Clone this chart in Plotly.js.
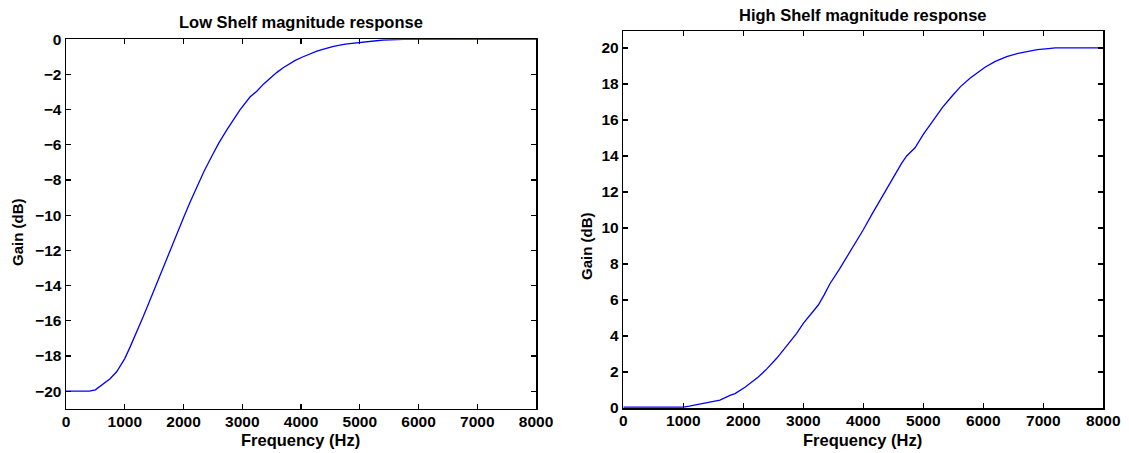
<!DOCTYPE html>
<html>
<head>
<meta charset="utf-8">
<script src="https://cdn.plot.ly/plotly-3.0.1.min.js"></script>
<style>html,body{margin:0;padding:0;background:#fff;}#plot{width:1129px;height:453px;}</style>
</head>
<body>
<div id="plot"></div>
<script>
// Low shelf magnitude response
const lowFreq = [0, 200, 400, 500, 636, 750, 862, 1000, 1090, 1200, 1317, 1420, 1516, 1630, 1750, 1828, 2000, 2113, 2226, 2350, 2481, 2600, 2737, 2850, 2964, 3135, 3248, 3360, 3476, 3590, 3703, 3800, 3902, 4016, 4130, 4270, 4400, 4554, 4753, 4895, 5123, 5400, 5750, 6000, 7000, 8000];
const lowGain = [-20, -20, -20, -19.93, -19.6, -19.3, -18.9, -18.15, -17.5, -16.7, -15.75, -14.9, -14.1, -13.2, -12.2, -11.55, -10.15, -9.25, -8.4, -7.5, -6.65, -5.9, -5.15, -4.55, -4.0, -3.27, -2.95, -2.55, -2.2, -1.88, -1.6, -1.4, -1.2, -1.02, -0.86, -0.67, -0.54, -0.4, -0.27, -0.22, -0.13, -0.04, 0, 0, 0, 0];
// High shelf magnitude response
const highFreq = [0, 500, 1000, 1100, 1222, 1400, 1611, 1778, 1862, 2028, 2250, 2400, 2556, 2700, 2889, 3000, 3139, 3250, 3350, 3444, 3600, 3722, 3850, 4000, 4150, 4306, 4420, 4528, 4640, 4723, 4862, 5000, 5167, 5320, 5473, 5620, 5778, 6028, 6200, 6390, 6580, 6778, 6900, 7083, 7200, 8000];
const highGain = [0.05, 0.05, 0.05, 0.1, 0.18, 0.3, 0.44, 0.7, 0.8, 1.15, 1.72, 2.2, 2.76, 3.35, 4.15, 4.7, 5.28, 5.72, 6.3, 6.9, 7.7, 8.35, 9.1, 9.9, 10.8, 11.7, 12.4, 13.0, 13.6, 14.0, 14.45, 15.2, 16.0, 16.7, 17.3, 17.85, 18.32, 18.93, 19.25, 19.52, 19.7, 19.83, 19.9, 19.96, 20, 20];

const xTicks = [0, 1000, 2000, 3000, 4000, 5000, 6000, 7000, 8000];
const lowTicks = [0, -2, -4, -6, -8, -10, -12, -14, -16, -18, -20];
const highTicks = [0, 2, 4, 6, 8, 10, 12, 14, 16, 18, 20];

const titles = ["Low Shelf magnitude response", "High Shelf magnitude response"];
const xLabel = "Frequency (Hz)";
const yLabel = "Gain (dB)";

const W = 1129, H = 453;
const px = v => v / W;
const py = v => 1 - v / H;

const fontFam = "Liberation Sans, Arial, sans-serif";
const tickFont = {family: fontFam, size: 15.5, color: "#000", weight: 700};
const boldLabel = v => "<b>" + String(v).replace("-", "\u2212") + "</b>";

function axisCommon(vals, extra) {
  return Object.assign({
    showline: true, linecolor: "#000", linewidth: 1.5, mirror: "ticks",
    ticks: "inside", ticklen: 5, tickwidth: 1.2, tickcolor: "#000",
    showgrid: false, zeroline: false, tickfont: tickFont, fixedrange: true,
    tickmode: "array", tickvals: vals, ticktext: vals.map(boldLabel)
  }, extra);
}

const traces = [
  {x: lowFreq, y: lowGain, type: "scatter", mode: "lines", line: {color: "#0000ff", width: 1.3}, xaxis: "x", yaxis: "y", hoverinfo: "skip"},
  {x: highFreq, y: highGain, type: "scatter", mode: "lines", line: {color: "#0000ff", width: 1.3}, xaxis: "x2", yaxis: "y2", hoverinfo: "skip"}
];

const bold = (t, s, extra) => Object.assign({text: "<b>" + t + "</b>", xref: "paper", yref: "paper", showarrow: false, xanchor: "center", yanchor: "middle", font: {family: fontFam, size: s, color: "#000"}}, extra);

const layout = {
  width: W, height: H, showlegend: false,
  margin: {l: 0, r: 0, t: 0, b: 0},
  paper_bgcolor: "#fff", plot_bgcolor: "#fff",
  xaxis: axisCommon(xTicks, {domain: [px(66), px(536)], range: [0, 8000], anchor: "y", ticklabelstandoff: -2}),
  yaxis: axisCommon(lowTicks, {domain: [py(408.7), py(39.3)], range: [-21, 0], anchor: "x"}),
  xaxis2: axisCommon(xTicks, {domain: [px(623.3), px(1103.3)], range: [0, 8000], anchor: "y2", ticklabelstandoff: -2}),
  yaxis2: axisCommon(highTicks, {domain: [py(408), py(31)], range: [0, 20.94], anchor: "x2"}),
  annotations: [
    bold(titles[0], 16.5, {x: px(301), y: py(21.5)}),
    bold(titles[1], 16.5, {x: px(863), y: py(15)}),
    bold(xLabel, 16.5, {x: px(300), y: py(440)}),
    bold(xLabel, 16.5, {x: px(862), y: py(440)}),
    bold(yLabel, 15, {x: px(18), y: py(232), textangle: -90}),
    bold(yLabel, 15, {x: px(586), y: py(246), textangle: -90})
  ]
};

Plotly.newPlot("plot", traces, layout, {staticPlot: true, displayModeBar: false});
</script>
</body>
</html>
